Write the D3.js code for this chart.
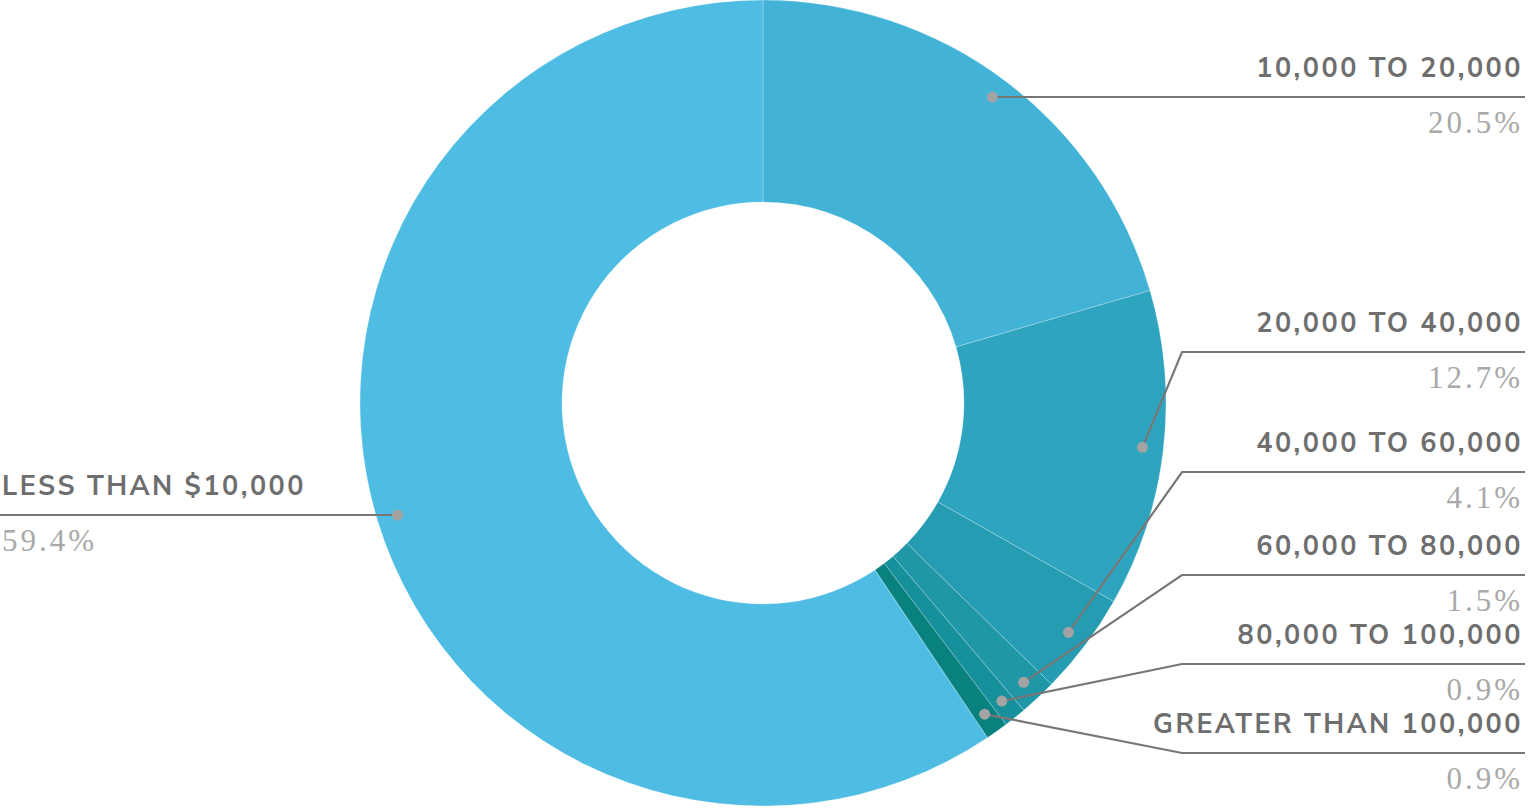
<!DOCTYPE html>
<html>
<head>
<meta charset="utf-8">
<script src="https://cdn.jsdelivr.net/npm/d3@7"></script>
<style>
  html, body { margin: 0; padding: 0; background: #fff; }
  .label { font-family: 'Nunito Sans', 'Open Sans', sans-serif; font-weight: 700; fill: #6e6e6e; letter-spacing: 2.5px; }
  .pct { font-family: 'Liberation Serif', 'DejaVu Serif', serif; fill: #a9a9a9; letter-spacing: 3px; }
</style>
</head>
<body>
<div class="chart"></div>
<script>
//====================DATA===================

const categories = ['10,000 TO 20,000', '20,000 TO 40,000', '40,000 TO 60,000', '60,000 TO 80,000',
  '80,000 TO 100,000', 'GREATER THAN 100,000', 'LESS THAN $10,000']
const shares = [20.5, 12.7, 4.1, 1.5, 0.9, 0.9, 59.4]
const colors = ['#42b3d6', '#2ea4bf', '#269cb2', '#1f97a7', '#16909b', '#08817f', '#4fbde3']

// label rows (layout, not data): y of each label's underline
const labelRows = [97, 352, 472, 575, 664, 753, 515]

//====================STRUCTURE===================

const width = 1530
const height = 808
const cx = 763, cy = 403
const outerR = 403, innerR = 201
const dotR = 382

const svg = d3.select('.chart').append('svg')
  .attr('width', width)
  .attr('height', height)

const data = categories.map((c, i) => ({ name: c, value: shares[i], color: colors[i], row: labelRows[i] }))

const pie = d3.pie().value(d => d.value).sort(null)
const arc = d3.arc().innerRadius(innerR).outerRadius(outerR)
const arcs = pie(data)

const g = svg.append('g').attr('transform', `translate(${cx},${cy})`)

g.selectAll('path')
  .data(arcs)
  .enter()
  .append('path')
  .attr('d', arc)
  .attr('fill', d => d.data.color)
  .attr('stroke', 'rgba(255,255,255,0.3)')
  .attr('stroke-width', 0.8)

//================LABELS======================================

const rightX0 = 1182, rightX1 = 1525

const dotPos = d => {
  const a = (d.startAngle + d.endAngle) / 2
  return [cx + dotR * Math.sin(a), cy - dotR * Math.cos(a)]
}

const labels = svg.append('g')

arcs.forEach(d => {
  let [x, y] = dotPos(d)
  const right = x > cx
  const ly = d.data.row
  let pts
  if (!right || Math.abs(ly - y) < 3) {
    y = ly
    pts = [[x, ly], [right ? rightX1 : 0, ly]]
  } else {
    pts = [[x, y], [rightX0, ly], [rightX1, ly]]
  }
  labels.append('path')
    .attr('d', d3.line()(pts))
    .attr('fill', 'none')
    .attr('stroke', '#777')
    .attr('stroke-width', 2.2)

  labels.append('circle')
    .attr('cx', x).attr('cy', y)
    .attr('r', 5.5)
    .attr('fill', '#a3a3a3')

  const tx = right ? 1523 : 2
  const anchor = right ? 'end' : 'start'
  labels.append('text')
    .attr('class', 'label')
    .attr('x', tx).attr('y', ly - 20)
    .attr('text-anchor', anchor)
    .attr('font-size', 27)
    .text(d.data.name)

  labels.append('text')
    .attr('class', 'pct')
    .attr('x', tx).attr('y', ly + 36)
    .attr('text-anchor', anchor)
    .attr('font-size', 31)
    .text(d.data.value.toFixed(1) + '%')
})
</script>
</body>
</html>
